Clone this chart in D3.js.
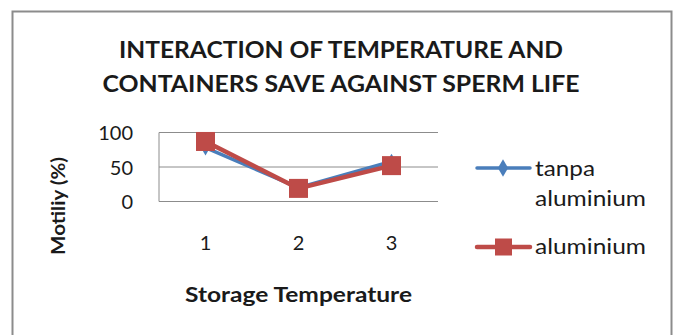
<!DOCTYPE html>
<html><head><meta charset="utf-8">
<script src="https://cdn.jsdelivr.net/npm/d3@7"></script>
<style>body{margin:0;background:#fff}svg{display:block}text{font-family:Lato,"Open Sans",sans-serif;fill:#1a1a1a}</style>
</head><body>
<script>
const categories = ["1", "2", "3"];
const tanpaAluminium = [78, 20, 58];
const aluminium = [87, 19, 52];
const yTicks = [0, 50, 100];
const seriesNames = ["tanpa aluminium", "aluminium"];
const titleLines = ["INTERACTION OF TEMPERATURE AND", "CONTAINERS SAVE AGAINST SPERM LIFE"];

const W = 676, H = 335;
const svg = d3.select("body").append("svg").attr("width", W).attr("height", H);

svg.append("rect").attr("x", 12.5).attr("y", 11.5).attr("width", 659).attr("height", 340)
  .attr("fill", "#fff").attr("stroke", "#8c8c8c").attr("stroke-width", 2);

// Title
const titleBase = [57.5, 92];
const titleLen = [444, 477];
titleLines.forEach((t, i) => {
  svg.append("text").attr("x", 341).attr("y", titleBase[i]).attr("text-anchor", "middle")
    .attr("font-size", 22).attr("font-weight", "bold")
    .attr("textLength", titleLen[i]).attr("lengthAdjust", "spacingAndGlyphs").text(t);
});

const plot = {left: 159, right: 438, top: 132.5, bottom: 201.5};
const x = d3.scaleBand().domain(categories).range([plot.left, plot.right]);
const y = d3.scaleLinear().domain([0, 100]).range([plot.bottom, plot.top]);
const cx = c => x(c) + x.bandwidth() / 2;

// Gridlines
svg.append("g").selectAll("line").data(yTicks).join("line")
  .attr("x1", plot.left).attr("x2", plot.right)
  .attr("y1", d => y(d)).attr("y2", d => y(d))
  .attr("stroke", "#8c8c8c").attr("stroke-width", 1);
svg.append("line").attr("x1", plot.left).attr("x2", plot.left)
  .attr("y1", plot.top).attr("y2", plot.bottom).attr("stroke", "#8c8c8c");

// Y axis labels
const yAxis = d3.axisLeft(y).tickValues(yTicks).tickSize(0).tickPadding(0);
const ya = svg.append("g").attr("transform", `translate(${133},0)`).call(yAxis);
ya.select(".domain").remove();
ya.selectAll("text").attr("font-size", 20).attr("fill", "#1a1a1a").attr("font-family", "Lato, sans-serif").attr("dy", "0.35em");

// X axis labels
const xAxis = d3.axisBottom(x).tickSize(0).tickPadding(0);
const xa = svg.append("g").attr("transform", `translate(0,${236})`).call(xAxis);
xa.select(".domain").remove();
xa.selectAll("text").attr("font-size", 20).attr("fill", "#1a1a1a").attr("font-family", "Lato, sans-serif").attr("dy", "0.71em");

// Axis titles
svg.append("text").attr("x", 298.5).attr("y", 302).attr("text-anchor", "middle")
  .attr("font-size", 20).attr("font-weight", "bold")
  .attr("textLength", 227).attr("lengthAdjust", "spacingAndGlyphs").text("Storage Temperature");
svg.append("text").attr("transform", "translate(65,206) rotate(-90)").attr("text-anchor", "middle")
  .attr("font-size", 18).attr("font-weight", "bold")
  .attr("textLength", 98).attr("lengthAdjust", "spacingAndGlyphs").text("Motiliy (%)");

// Lines
const line = d3.line().x((d, i) => cx(categories[i])).y(d => y(d));
svg.append("path").datum(tanpaAluminium).attr("d", line).attr("fill", "none")
  .attr("stroke", "#4a7ebb").attr("stroke-width", 3.5).attr("stroke-linejoin", "round");
const diamond = d3.symbol().type(d3.symbolDiamond).size(70);
svg.append("g").selectAll("path").data(tanpaAluminium).join("path")
  .attr("d", diamond).attr("fill", "#4a7ebb")
  .attr("transform", (d, i) => `translate(${cx(categories[i])},${y(d)})`);

svg.append("path").datum(aluminium).attr("d", line).attr("fill", "none")
  .attr("stroke", "#be4b48").attr("stroke-width", 4.5).attr("stroke-linejoin", "round");
const sq = 19;
svg.append("g").selectAll("rect").data(aluminium).join("rect")
  .attr("x", (d, i) => cx(categories[i]) - sq / 2).attr("y", d => y(d) - sq / 2)
  .attr("width", sq).attr("height", sq).attr("fill", "#be4b48");

// Legend
const lg = svg.append("g");
lg.append("line").attr("x1", 477).attr("x2", 530).attr("y1", 168).attr("y2", 168)
  .attr("stroke", "#4a7ebb").attr("stroke-width", 3.5).attr("stroke-linecap", "round");
lg.append("path").attr("d", d3.symbol().type(d3.symbolDiamond).size(90)).attr("fill", "#4a7ebb")
  .attr("transform", "translate(503,168)");
lg.append("text").attr("x", 535).attr("y", 175.5).attr("font-size", 22)
  .attr("textLength", 60).attr("lengthAdjust", "spacingAndGlyphs").text("tanpa");
lg.append("text").attr("x", 535).attr("y", 206).attr("font-size", 22)
  .attr("textLength", 111).attr("lengthAdjust", "spacingAndGlyphs").text("aluminium");
lg.append("line").attr("x1", 477).attr("x2", 530).attr("y1", 247).attr("y2", 247)
  .attr("stroke", "#be4b48").attr("stroke-width", 4.5).attr("stroke-linecap", "round");
lg.append("rect").attr("x", 495).attr("y", 238.5).attr("width", 17).attr("height", 17).attr("fill", "#be4b48");
lg.append("text").attr("x", 535).attr("y", 253.5).attr("font-size", 22)
  .attr("textLength", 111).attr("lengthAdjust", "spacingAndGlyphs").text("aluminium");
</script>
</body></html>
